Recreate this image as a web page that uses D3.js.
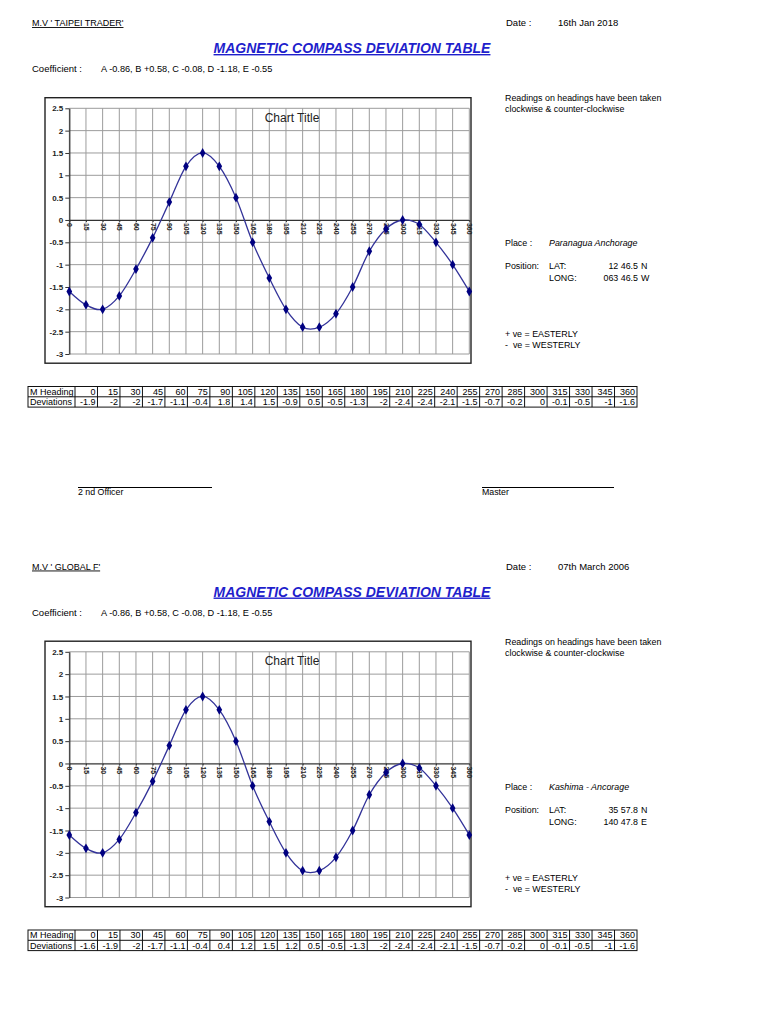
<!DOCTYPE html>
<html>
<head>
<meta charset="utf-8">
<script src="https://cdn.jsdelivr.net/npm/d3@7"></script>
<style>
  body { margin: 0; background: #fff; }
  svg { display: block; }
  text { white-space: pre; }
</style>
</head>
<body>
<svg id="page" width="768" height="1024"></svg>
<script>
// headings (deg) and the deviations that are plotted on both charts
const headings = [0, 15, 30, 45, 60, 75, 90, 105, 120, 135, 150, 165, 180, 195, 210, 225, 240, 255, 270, 285, 300, 315, 330, 345, 360];
const deviations = [-1.6, -1.9, -2, -1.7, -1.1, -0.4, 0.4, 1.2, 1.5, 1.2, 0.5, -0.5, -1.3, -2, -2.4, -2.4, -2.1, -1.5, -0.7, -0.2, 0, -0.1, -0.5, -1, -1.6];
// the tables printed under each chart (first one does not match its chart)
const tableDevTaipei = [-1.9, -2, -2, -1.7, -1.1, -0.4, 1.8, 1.4, 1.5, -0.9, 0.5, -0.5, -1.3, -2, -2.4, -2.4, -2.1, -1.5, -0.7, -0.2, 0, -0.1, -0.5, -1, -1.6];
const tableDevGlobal = [-1.6, -1.9, -2, -1.7, -1.1, -0.4, 0.4, 1.2, 1.5, 1.2, 0.5, -0.5, -1.3, -2, -2.4, -2.4, -2.1, -1.5, -0.7, -0.2, 0, -0.1, -0.5, -1, -1.6];
const yTicks = [2.5, 2, 1.5, 1, 0.5, 0, -0.5, -1, -1.5, -2, -2.5, -3];

const vessels = ["M.V ' TAIPEI TRADER'", "M.V ' GLOBAL F'"];
const dates = ["16th Jan 2018", "07th March 2006"];
const places = ["Paranagua Anchorage", "Kashima - Ancorage"];
const lats = [["12 46.5", "N"], ["35 57.8", "N"]];
const longs = [["063 46.5", "W"], ["140 47.8", "E"]];
const tables = [tableDevTaipei, tableDevGlobal];
const coefficients = "A -0.86, B +0.58, C -0.08, D -1.18, E -0.55";

const narrow = "'Liberation Sans Narrow', 'Arial Narrow', 'Liberation Sans', sans-serif";
const arial = "'Liberation Sans', Arial, sans-serif";

const svg = d3.select('#page');
svg.append('rect').attr('width', 768).attr('height', 1024).attr('fill', '#fff');

const sectionTops = [0, 543.5];

sectionTops.forEach((top, i) => {
    const g = svg.append('g').attr('transform', `translate(0,${top})`);

    // header
    g.append('text').attr('x', 32).attr('y', 26)
        .attr('font-family', narrow).attr('font-size', 9)
        .attr('text-decoration', 'underline')
        .text(vessels[i]);
    g.append('text').attr('x', 506).attr('y', 26)
        .attr('font-family', narrow).attr('font-size', 9.5).text('Date :');
    g.append('text').attr('x', 558).attr('y', 26)
        .attr('font-family', narrow).attr('font-size', 9.5).text(dates[i]);

    g.append('text').attr('x', 352).attr('y', 53)
        .attr('text-anchor', 'middle')
        .attr('font-family', arial).attr('font-size', 14)
        .attr('font-weight', 'bold').attr('font-style', 'italic')
        .attr('fill', '#1f1fcc')
        .attr('text-decoration', 'underline')
        .text('MAGNETIC COMPASS DEVIATION TABLE');

    g.append('text').attr('x', 32).attr('y', 72)
        .attr('font-family', narrow).attr('font-size', 9.5).text('Coefficient :');
    g.append('text').attr('x', 101).attr('y', 72)
        .attr('font-family', narrow).attr('font-size', 9.2).text(coefficients);

    drawChart(g);

    // notes on the right
    const note = (x, y, t, italic) => g.append('text')
        .attr('x', x).attr('y', y)
        .attr('font-family', arial).attr('font-size', 8.9)
        .attr('font-style', italic ? 'italic' : null)
        .text(t);
    note(505, 101, 'Readings on headings have been taken');
    note(505, 112, 'clockwise & counter-clockwise');
    note(505, 246, 'Place :');
    note(549, 246, places[i], true);
    note(505, 269, 'Position:');
    note(549, 269, 'LAT:');
    note(549, 281, 'LONG:');
    note(638, 269, lats[i][0]).attr('text-anchor', 'end');
    note(641, 269, lats[i][1]);
    note(638, 281, longs[i][0]).attr('text-anchor', 'end');
    note(641, 281, longs[i][1]);
    note(505, 337, '+ ve = EASTERLY');
    note(505, 348, '-  ve = WESTERLY');

    drawTable(g, tables[i]);

    if (i === 0) {
        // signature lines
        [[78, 212, '2 nd Officer'], [482, 614, 'Master']].forEach(s => {
            g.append('line').attr('x1', s[0]).attr('x2', s[1])
                .attr('y1', 487.5).attr('y2', 487.5)
                .attr('stroke', '#000').attr('stroke-width', 1);
            g.append('text').attr('x', s[0]).attr('y', 495)
                .attr('font-family', narrow).attr('font-size', 8.8).text(s[2]);
        });
    }
});

function drawChart(g) {
    const x = d3.scaleLinear().domain([0, 360]).range([69.3, 469.3]);
    const y = d3.scaleLinear().domain([-3, 2.5]).range([354, 108.3]);

    g.append('rect')
        .attr('x', 45).attr('y', 97.7).attr('width', 426).attr('height', 265.5)
        .attr('fill', '#fff').attr('stroke', '#222').attr('stroke-width', 1.4);

    // gridlines
    g.append('g').selectAll('line')
        .data(yTicks).join('line')
        .attr('x1', x(0)).attr('x2', x(360))
        .attr('y1', d => y(d)).attr('y2', d => y(d))
        .attr('stroke', '#9c9c9c').attr('stroke-width', 1);
    g.append('g').selectAll('line')
        .data(headings).join('line')
        .attr('x1', d => x(d)).attr('x2', d => x(d))
        .attr('y1', y(2.5)).attr('y2', y(-3))
        .attr('stroke', '#9c9c9c').attr('stroke-width', 1);

    // y axis
    const yAxis = g.append('g')
        .attr('transform', `translate(${x(0)},0)`)
        .call(d3.axisLeft(y).tickValues(yTicks).tickSize(4).tickSizeOuter(0).tickPadding(2)
            .tickFormat(d => String(d)));
    yAxis.select('.domain').attr('stroke', '#333').attr('stroke-width', 1.2);
    yAxis.selectAll('.tick line').attr('stroke', '#333');
    yAxis.selectAll('text')
        .attr('font-family', narrow).attr('font-size', 8).attr('font-weight', 'bold')
        .attr('fill', '#222');

    // x axis sits on zero
    const xAxis = g.append('g')
        .attr('transform', `translate(0,${y(0)})`)
        .call(d3.axisBottom(x).tickValues(headings).tickSize(2).tickSizeOuter(0)
            .tickFormat(d => String(d)));
    xAxis.select('.domain').attr('stroke', '#333').attr('stroke-width', 1.2);
    xAxis.selectAll('.tick line').attr('stroke', '#333');
    xAxis.selectAll('text')
        .attr('transform', 'rotate(90)')
        .attr('text-anchor', 'start')
        .attr('x', 3).attr('y', 0).attr('dy', '0.33em')
        .attr('font-family', narrow).attr('font-size', 7).attr('font-weight', 'bold')
        .attr('fill', '#222');

    g.append('text').attr('x', 292).attr('y', 121.5)
        .attr('text-anchor', 'middle')
        .attr('font-family', arial).attr('font-size', 12)
        .attr('fill', '#222')
        .text('Chart Title');

    const pts = headings.map((h, k) => [h, deviations[k]]);

    g.append('path')
        .datum(pts)
        .attr('fill', 'none')
        .attr('stroke', '#333399')
        .attr('stroke-width', 1.3)
        .attr('d', d3.line()
            .x(d => x(d[0]))
            .y(d => y(d[1]))
            .curve(d3.curveCardinal.tension(0)));

    g.append('g').selectAll('path')
        .data(pts).join('path')
        .attr('transform', d => `translate(${x(d[0])},${y(d[1])})`)
        .attr('d', d3.symbol(d3.symbolDiamond, 28))
        .attr('fill', '#000080');
}

function drawTable(g, values) {
    const x0 = 28, labelRight = 75, rowTop = 386.5, rowH = 10.3;
    const col = d3.scaleBand().domain(headings).range([labelRight, 637]).paddingInner(0);
    const rows = [['M Heading', headings], ['Deviations', values]];

    rows.forEach((r, ri) => {
        const yTop = rowTop + ri * rowH;
        g.append('text').attr('x', x0 + 2).attr('y', yTop + 8.3)
            .attr('font-family', narrow).attr('font-size', 9).text(r[0]);
        g.append('g').selectAll('text')
            .data(r[1]).join('text')
            .attr('x', (d, k) => col(headings[k]) + col.bandwidth() - 2)
            .attr('y', yTop + 8.3)
            .attr('text-anchor', 'end')
            .attr('font-family', narrow).attr('font-size', 9)
            .text(d => String(d));
    });

    // cell borders
    const b = g.append('g').attr('stroke', '#111').attr('stroke-width', 1).attr('fill', 'none');
    b.append('rect').attr('x', x0).attr('y', rowTop)
        .attr('width', 637 - x0).attr('height', rowH * 2);
    b.append('line').attr('x1', x0).attr('x2', 637)
        .attr('y1', rowTop + rowH).attr('y2', rowTop + rowH);
    b.selectAll('line.v')
        .data(headings).join('line')
        .attr('x1', d => col(d)).attr('x2', d => col(d))
        .attr('y1', rowTop).attr('y2', rowTop + rowH * 2);
}
</script>
</body>
</html>
